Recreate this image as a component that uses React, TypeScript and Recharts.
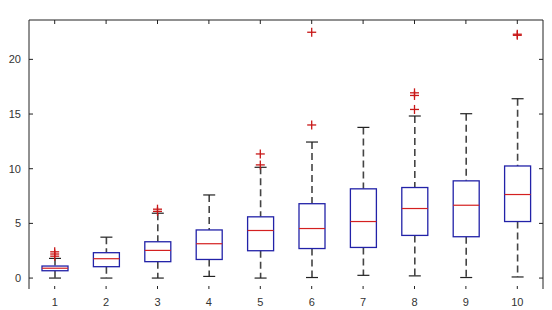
import React from 'react'
import { ComposedChart, Bar, Scatter, XAxis, YAxis } from 'recharts'

const categories = ['1', '2', '3', '4', '5', '6', '7', '8', '9', '10']
const lowWhisker = [0, 0, 0, 0.15, 0, 0.05, 0.25, 0.2, 0.05, 0.1]
const q1 = [0.67, 1.04, 1.5, 1.7, 2.5, 2.7, 2.8, 3.9, 3.78, 5.17]
const median = [0.9, 1.77, 2.53, 3.14, 4.35, 4.53, 5.17, 6.36, 6.66, 7.64]
const q3 = [1.1, 2.32, 3.32, 4.4, 5.6, 6.8, 8.16, 8.28, 8.89, 10.25]
const highWhisker = [1.8, 3.74, 5.93, 7.6, 10.13, 12.44, 13.78, 14.82, 15.03, 16.4]
const outliers: number[][] = [
  [2.0, 2.2, 2.4],
  [],
  [6.1, 6.3],
  [],
  [10.35, 11.35],
  [14.0, 22.48],
  [],
  [15.42, 16.7, 16.94],
  [],
  [22.2, 22.3],
]
const yTicks = [0, 5, 10, 15, 20]

const data = categories.map((name, i) => ({
  name,
  lo: lowWhisker[i],
  q1: q1[i],
  med: median[i],
  q3: q3[i],
  hi: highWhisker[i],
  o1: outliers[i][0],
  o2: outliers[i][1],
  o3: outliers[i][2],
}))

const BOX = '#2222a8'
const RED = '#d42020'

// whole box drawn from the [lo, hi] range bar; inner values placed along the same scale
function BoxShape(props: any) {
  const { x, y, width, height, payload } = props
  if (height == null || !payload) return null
  const { lo, hi } = payload
  const py = (v: number) => y + (height * (hi - v)) / (hi - lo)
  const cx = x + width / 2
  const cap = 6
  return (
    <g>
      <line x1={cx} x2={cx} y1={py(hi)} y2={py(payload.q3)} stroke="#444" strokeWidth={1.6} strokeDasharray="7 4" />
      <line x1={cx} x2={cx} y1={py(payload.q1)} y2={py(lo)} stroke="#444" strokeWidth={1.6} strokeDasharray="7 4" />
      <line x1={cx - cap} x2={cx + cap} y1={py(hi)} y2={py(hi)} stroke="#222" strokeWidth={1.2} />
      <line x1={cx - cap} x2={cx + cap} y1={py(lo)} y2={py(lo)} stroke="#222" strokeWidth={1.2} />
      <rect
        x={x}
        y={py(payload.q3)}
        width={width}
        height={py(payload.q1) - py(payload.q3)}
        fill="#fff"
        stroke={BOX}
        strokeWidth={1.3}
      />
      <line x1={x} x2={x + width} y1={py(payload.med)} y2={py(payload.med)} stroke={RED} strokeWidth={1.2} />
    </g>
  )
}

function Plus(props: any) {
  const { cx, cy } = props
  if (cx == null || cy == null || isNaN(cy)) return null
  return (
    <g stroke="#c81818" strokeWidth={1.3}>
      <line x1={cx - 4.5} x2={cx + 4.5} y1={cy} y2={cy} />
      <line x1={cx} x2={cx} y1={cy - 4.5} y2={cy + 4.5} />
    </g>
  )
}

const LeftTick = (props: any) => {
  const { x, y, payload } = props
  return (
    <g>
      <text x={x} y={y} dy={4} textAnchor="end" fontSize={11} fill="#333">
        {payload.value}
      </text>
      <line x1={x + 8} x2={x + 12} y1={y} y2={y} stroke="#222" />
    </g>
  )
}

const RightTick = (props: any) => {
  const { x, y } = props
  return <line x1={x - 8} x2={x - 12} y1={y} y2={y} stroke="#222" />
}

const BottomTick = (props: any) => {
  const { x, y, payload } = props
  return (
    <g>
      <line x1={x} x2={x} y1={y - 8} y2={y - 11} stroke="#222" />
      <text x={x} y={y} dy={9} textAnchor="middle" fontSize={11} fill="#333">
        {payload.value}
      </text>
    </g>
  )
}

const TopTick = (props: any) => {
  const { x, y } = props
  return <line x1={x} x2={x} y1={y + 8} y2={y + 12} stroke="#222" />
}

export default function App() {
  return (
    <div style={{ position: 'absolute', left: 0, top: 0, background: '#fff', fontFamily: '"Liberation Sans", Arial, sans-serif' }}>
      <ComposedChart width={552} height={310} data={data} margin={{ top: 0, right: 0, bottom: 0, left: 0 }}>
        <XAxis
          dataKey="name"
          height={21}
          axisLine={false}
          tickLine={false}
          tickSize={0}
          tickMargin={8}
          tick={<BottomTick />}
          interval={0}
        />
        <XAxis
          xAxisId="top"
          dataKey="name"
          orientation="top"
          height={20}
          axisLine={{ stroke: '#222' }}
          tickLine={false}
          tickSize={0}
          tickMargin={8}
          tick={<TopTick />}
          interval={0}
        />
        <YAxis
          type="number"
          domain={[-1, 23.6]}
          ticks={yTicks}
          width={29}
          axisLine={{ stroke: '#222' }}
          tickLine={false}
          tickSize={0}
          tickMargin={8}
          tick={<LeftTick />}
          allowDataOverflow
        />
        <YAxis
          yAxisId="r"
          orientation="right"
          type="number"
          domain={[-1, 23.6]}
          ticks={yTicks}
          width={9}
          axisLine={{ stroke: '#222' }}
          tickLine={false}
          tickSize={0}
          tickMargin={8}
          tick={<RightTick />}
          allowDataOverflow
        />
        <Bar dataKey={(d: any) => [d.lo, d.hi]} barSize={26} shape={<BoxShape />} isAnimationActive={false} />
        <Scatter dataKey="o1" shape={<Plus />} isAnimationActive={false} />
        <Scatter dataKey="o2" shape={<Plus />} isAnimationActive={false} />
        <Scatter dataKey="o3" shape={<Plus />} isAnimationActive={false} />
      </ComposedChart>
    </div>
  )
}
